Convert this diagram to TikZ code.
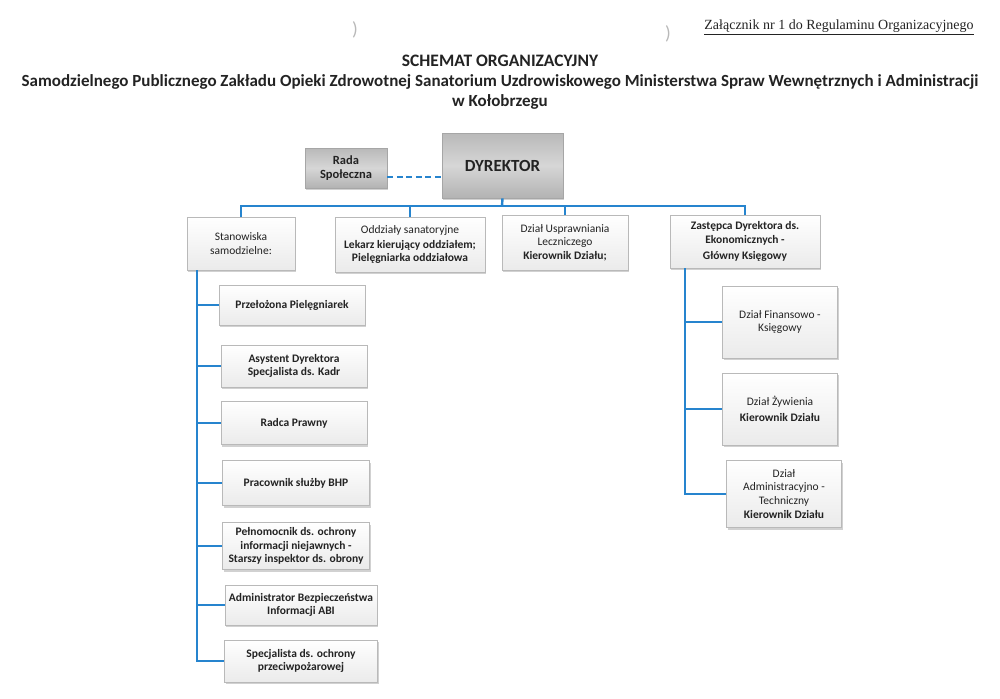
\documentclass[tikz,border=0pt]{standalone}
\usepackage{fontspec}
\setmainfont{Carlito}
\newfontfamily\timesfont{Liberation Serif}
\usepackage{tikz}
\usetikzlibrary{positioning,calc,shadows}
\definecolor{linkblue}{RGB}{38,132,206}
\definecolor{boxtxt}{RGB}{35,35,35}

\begin{document}
\begin{tikzpicture}[
  x=1pt, y=-1pt,
  every node/.style={align=center, text=boxtxt},
  base/.style   = {draw=gray!55, line width=0.6pt, inner sep=2pt,
                   font=\fontsize{11.5}{13.5}\selectfont,
                   top color=white, bottom color=gray!16,
                   drop shadow={shadow xshift=1.2pt, shadow yshift=-2pt, fill=gray!45, opacity=0.8}},
  headnd/.style = {base, draw=gray!70, top color=gray!55, bottom color=gray!60,
                   middle color=gray!32},
  lftnd/.style  = {base, font=\fontsize{11.5}{13.5}\selectfont\bfseries},
  link/.style   = {draw=linkblue, line width=2.4pt},
  dlink/.style  = {draw=linkblue, line width=1.8pt, dash pattern=on 6pt off 3.5pt}
]
\useasboundingbox (0,0) rectangle (1000,698);

% header
\node[font=\timesfont\fontsize{14}{16}\selectfont] (annex) at (839,27)
  {\underline{Załącznik nr 1 do Regulaminu Organizacyjnego}};
\node[text=gray!55, font=\fontsize{19}{19}\selectfont] (punchA) at (355,30) {)};
\node[text=gray!55, font=\fontsize{19}{19}\selectfont] (punchB) at (668,34) {)};
\node[font=\fontsize{17.5}{20}\selectfont\bfseries] (title) at (500,61) {SCHEMAT ORGANIZACYJNY};
\node[font=\fontsize{17}{19.5}\selectfont\bfseries] (subtitle) at (500,92)
  {Samodzielnego Publicznego Zakładu Opieki Zdrowotnej Sanatorium Uzdrowiskowego Ministerstwa Spraw Wewnętrznych i Administracji \\
   w Kołobrzegu};

% top level
\node[headnd, minimum width=121, minimum height=65,
      font=\fontsize{17}{20}\selectfont\bfseries] (dyr) at (502.5,165.5) {DYREKTOR};
\node[headnd, minimum width=82, minimum height=40,
      font=\fontsize{12.5}{13.5}\selectfont\bfseries] (rada) at (346,168) {Rada\\Społeczna};

% second row
\node[base, minimum width=108, minimum height=53] (stan) at (241,243.5)
  {Stanowiska\\samodzielne:};
\node[base, minimum width=150, minimum height=55] (oddz) at (410,244.5)
  {Oddziały sanatoryjne\\[1pt] \textbf{Lekarz kierujący oddziałem;}\\ \textbf{Pielęgniarka oddziałowa}};
\node[base, minimum width=126, minimum height=55] (uspr) at (565,242.5)
  {Dział Usprawniania\\Leczniczego\\ \textbf{Kierownik Działu;}};
\node[lftnd, minimum width=150, minimum height=53] (zast) at (745,241.5)
  {Zastępca Dyrektora ds.\\Ekonomicznych -\\[3pt] Główny Księgowy};

% independent posts
\node[lftnd, minimum width=146, minimum height=40] (przel) at (292,305) {Przełożona Pielęgniarek};
\node[lftnd, minimum width=146, minimum height=42] (asyst) at (294,366)
  {Asystent Dyrektora\\Specjalista ds. Kadr};
\node[lftnd, minimum width=146, minimum height=43] (radca) at (294,423) {Radca Prawny};
\node[lftnd, minimum width=147, minimum height=45] (bhp) at (296,483) {Pracownik służby BHP};
\node[lftnd, minimum width=147, minimum height=47] (pelnom) at (296,546)
  {Pełnomocnik ds. ochrony\\informacji niejawnych -\\Starszy inspektor ds. obrony};
\node[lftnd, minimum width=152, minimum height=40] (abi) at (301,605)
  {Administrator Bezpieczeństwa\\Informacji ABI};
\node[lftnd, minimum width=153, minimum height=42] (ppoz) at (301,661)
  {Specjalista ds. ochrony\\przeciwpożarowej};

% economic branch
\node[base, minimum width=115, minimum height=72] (finans) at (780,322)
  {Dział Finansowo -\\Księgowy};
\node[base, minimum width=115, minimum height=72] (zywien) at (780,409)
  {Dział Żywienia\\[3pt] \textbf{Kierownik Działu}};
\node[base, minimum width=115, minimum height=67] (admtech) at (784,494)
  {Dział\\Administracyjno -\\Techniczny\\[1pt] \textbf{Kierownik Działu}};

% connectors
\coordinate (bus) at (502,206);
\coordinate (leftSpine) at (197,270);
\coordinate (rightSpine) at (685,268);
\draw[link] (dyr.south) -- (bus);
\draw[link] (stan.north) |- (bus) -| (zast.north);
\draw[link] (oddz.north) -- (oddz.north |- bus);
\draw[link] (uspr.north) -- (uspr.north |- bus);
\draw[dlink] ([yshift=-9pt]rada.east) -- ([yshift=-9pt]rada.east -| dyr.west);

\draw[link] (leftSpine) |- (ppoz.west);
\foreach \n in {przel,asyst,radca,bhp,pelnom,abi}
  \draw[link] (leftSpine |- \n.west) -- (\n.west);

\draw[link] (rightSpine) |- (admtech.west);
\foreach \n in {finans,zywien}
  \draw[link] (rightSpine |- \n.west) -- (\n.west);
\end{tikzpicture}
\end{document}
